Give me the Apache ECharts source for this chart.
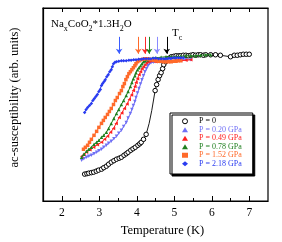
<!DOCTYPE html>
<html>
<head>
<meta charset="utf-8">
<script src="https://cdn.jsdelivr.net/npm/echarts@6/dist/echarts.min.js"></script>
<style>html,body{margin:0;padding:0;background:#fff}#c{width:282px;height:242px}</style>
</head>
<body>
<div id="c"></div>
<script>
const seriesNames = ['P = 0', 'P = 0.20 GPa', 'P = 0.49 GPa', 'P = 0.78 GPa', 'P = 1.52 GPa', 'P = 2.18 GPa'];
const xTickLabels = [2, 3, 4, 5, 6, 7];
const xMinorTicks = [2.5, 3.5, 4.5, 5.5, 6.5];
const xTopTicks = [2, 2.5, 3, 3.5, 4, 4.5, 5, 5.5, 6, 6.5, 7];
// Tc arrow positions (K), in legend order
const tcValues = [4.80, 4.54, 4.22, 4.33, 4.04, 3.53];

const p0 = [[2.61,27],[2.67,27.5],[2.72,28],[2.79,28.5],[2.85,29],[2.92,30],[2.98,31],[3.06,32],[3.12,33.5],[3.19,35],[3.25,37],[3.32,39],[3.39,40.5],[3.46,42],[3.53,43],[3.59,44],[3.66,46],[3.72,47.5],[3.77,49],[3.84,51],[3.90,52.5],[3.96,54],[4.03,56],[4.08,57.5],[4.12,59],[4.18,62],[4.25,67],[4.33,78],[4.40,91],[4.49,111],[4.53,117],[4.57,122],[4.61,126],[4.65,129],[4.69,133],[4.72,137],[4.77,140],[4.82,142.5],[4.86,143.5],[4.92,145],[4.99,145.5],[5.05,146],[5.12,146],[5.17,146],[5.24,146.5],[5.31,146.5],[5.37,146],[5.44,146.5],[5.50,147],[5.57,146.5],[5.64,147],[5.70,147],[5.78,146.5],[5.84,147],[5.97,147],[6.10,147],[6.23,146.5],[6.50,145],[6.60,146.5],[6.68,146.5],[6.76,147],[6.84,147.5],[6.92,147.5],[7.00,147.5]];
const p020 = [[2.53,41],[2.59,42.5],[2.66,44],[2.72,45],[2.79,46],[2.86,47.5],[2.93,49],[2.99,50.5],[3.06,52],[3.12,54],[3.19,56],[3.25,58],[3.32,60],[3.39,62.5],[3.46,65],[3.52,68],[3.59,71],[3.65,75],[3.72,79],[3.77,83.5],[3.83,88],[3.87,92],[3.91,96],[3.95,100],[3.98,104],[4.02,108.5],[4.06,113],[4.10,117.5],[4.14,122],[4.18,126],[4.22,130],[4.26,133],[4.30,136],[4.34,138],[4.38,139],[4.45,139.5],[4.51,140],[4.58,140.5],[4.65,141],[4.78,141],[4.91,141],[5.04,141.5],[5.17,142],[5.31,142],[5.44,142]];
const p049 = [[2.53,45],[2.59,47],[2.66,49],[2.75,51.5],[2.85,54],[2.95,56.5],[3.06,59],[3.14,62],[3.22,65],[3.30,69],[3.38,73],[3.45,78],[3.53,84],[3.60,88.5],[3.67,93],[3.74,97.5],[3.80,102],[3.86,106.5],[3.91,111],[3.95,115],[3.98,119],[4.02,123],[4.06,127],[4.10,130],[4.14,133],[4.18,135],[4.22,137],[4.26,139],[4.30,140],[4.34,140.5],[4.38,141],[4.45,140.5],[4.51,140],[4.58,140],[4.65,140],[4.78,140],[4.91,140],[5.04,140.5],[5.17,141],[5.31,141.5],[5.44,142]];
const p078 = [[2.53,44],[2.59,47],[2.66,50],[2.72,52],[2.79,54],[2.86,57],[2.93,59],[2.99,61],[3.06,64],[3.12,66],[3.19,69],[3.25,73],[3.32,78],[3.39,83],[3.46,88],[3.52,92],[3.59,97],[3.65,101],[3.72,106],[3.77,110],[3.83,115],[3.87,119],[3.91,123],[3.95,126],[3.98,129],[4.02,132],[4.06,134],[4.10,136],[4.14,138],[4.18,140],[4.22,141],[4.28,142],[4.33,143],[4.42,143.5],[4.51,144],[4.65,144.5],[4.78,145],[4.91,145],[5.04,145],[5.17,145.5],[5.31,146],[5.44,146],[5.57,146],[5.70,146.5],[5.84,147],[5.97,147]];
const p152 = [[2.58,52],[2.63,54],[2.69,56],[2.74,59],[2.79,62],[2.86,66],[2.93,70],[2.99,74],[3.06,78],[3.11,81],[3.16,84],[3.22,87],[3.27,90],[3.32,93],[3.38,97],[3.43,101],[3.48,104],[3.54,108],[3.59,111],[3.63,115],[3.67,118],[3.71,122],[3.75,125],[3.79,128],[3.83,130],[3.87,132],[3.91,134],[3.95,136],[3.98,138],[4.02,140],[4.06,141],[4.11,142],[4.17,142.5],[4.22,143],[4.28,143],[4.33,142.5],[4.38,142],[4.45,141.5],[4.51,141],[4.58,140.5],[4.65,140.5],[4.72,140],[4.78,140],[4.85,140],[4.91,140],[4.98,140.5],[5.04,140.5],[5.11,141],[5.17,141]];
const p218 = [[2.61,89],[2.65,92],[2.69,94],[2.74,96],[2.79,98],[2.83,101],[2.87,103],[2.91,105],[2.95,107],[2.99,110],[3.03,112],[3.06,116],[3.09,118],[3.13,120],[3.16,122],[3.20,125],[3.24,127],[3.28,130],[3.32,132],[3.35,135],[3.38,138],[3.42,139.5],[3.46,140],[3.52,140.5],[3.59,141],[3.65,141],[3.72,141],[3.79,141.5],[3.85,141.5],[3.92,142],[3.98,142],[4.05,142.5],[4.12,142.5],[4.18,143],[4.25,143],[4.32,143],[4.38,143],[4.45,143.5],[4.51,143.5],[4.58,143],[4.65,143],[4.72,143],[4.78,143],[4.85,143.5],[4.91,143.5],[4.98,144],[5.04,144],[5.11,144],[5.17,144],[5.24,144]];

const dataSets = [p0, p020, p049, p078, p152, p218];
const colors = ['#000000', '#6f6ff5', '#ff2020', '#1f7f1f', '#ff6a2a', '#2a3cf0'];
const arrowColors = ['#000000', '#8a8aff', '#ff2a2a', '#1f7f1f', '#ff6a2a', '#3a5cff'];
const symbols = ['circle', 'triangle', 'triangle', 'triangle', 'rect', 'diamond'];
const rotations = [0, 180, 90, 0, 0, 0];
const serif = '"Liberation Serif", "DejaVu Serif", serif';

const chart = echarts.init(document.getElementById('c'));
const series = dataSets.map((d, i) => ({
  name: seriesNames[i],
  type: 'line',
  data: d.map(p => (i === 0 && (p[0] === 4.33 || p[0] === 4.40)) ? {value: p, symbol: 'none'} : p),
  symbol: symbols[i],
  symbolRotate: rotations[i],
  symbolSize: i === 0 ? 4.5 : 3.5,
  showSymbol: true,
  itemStyle: i === 0 ? {color: '#fff', borderColor: '#000', borderWidth: 1} : {color: colors[i]},
  lineStyle: {color: colors[i], width: i === 0 ? 0.9 : 1},
  animation: false,
  z: 2 + i,
  markLine: {
    silent: true,
    symbol: ['none', 'arrow'],
    symbolSize: 5,
    label: {show: false},
    lineStyle: {color: arrowColors[i], width: 1, type: 'solid'},
    data: [[{coord: [tcValues[i], 165]}, {coord: [tcValues[i], 148]}]]
  }
}));

chart.setOption({
  animation: false,
  backgroundColor: '#fff',
  grid: {left: 41, right: 14, top: 8, bottom: 40, show: true, borderColor: '#000', borderWidth: 1.2, backgroundColor: 'transparent'},
  title: {
    left: 51, top: 19, padding: 0,
    text: '{n|Na}{s|x}{n|CoO}{s|2}{n|*1.3H}{s|2}{n|O}',
    textStyle: {
      fontWeight: 'normal',
      rich: {
        n: {fontFamily: serif, fontSize: 11, fontWeight: 'normal', color: '#000', lineHeight: 12, verticalAlign: 'top'},
        s: {fontFamily: serif, fontSize: 8, fontWeight: 'normal', color: '#000', lineHeight: 8, padding: [6, 0, 0, 0], verticalAlign: 'top'}
      }
    }
  },
  graphic: [{
    type: 'text', left: 172, top: 28,
    style: {
      text: '{n|T}{s|c}',
      rich: {
        n: {fontFamily: serif, fontSize: 11, fill: '#000', lineHeight: 12, verticalAlign: 'top'},
        s: {fontFamily: serif, fontSize: 8, fill: '#000', lineHeight: 8, padding: [6, 0, 0, 0], verticalAlign: 'top'}
      }
    }
  }],
  legend: {
    orient: 'vertical', left: 170, top: 113,
    padding: [4, 11, 6, 12],
    itemGap: 0, itemWidth: 6, itemHeight: 5,
    backgroundColor: '#fff', borderColor: '#000', borderWidth: 1,
    shadowColor: '#000', shadowOffsetX: 2, shadowOffsetY: 2, shadowBlur: 0,
    textStyle: {fontFamily: serif, fontSize: 8, lineHeight: 8.5, padding: [0, 0, 0, 6]},
    data: seriesNames.map((n, i) => ({
      name: n,
      icon: symbols[i],
      itemStyle: i === 0 ? {color: '#fff', borderColor: '#000', borderWidth: 1} : {color: colors[i]},
      textStyle: {color: colors[i]}
    }))
  },
  xAxis: [{
    type: 'value', min: 1.5, max: 7.5, position: 'bottom',
    name: 'Temperature (K)', nameLocation: 'middle', nameGap: 23,
    nameTextStyle: {fontFamily: serif, fontSize: 12.5, color: '#000', padding: [0, 0, 0, 14]},
    axisLine: {show: true, lineStyle: {color: '#000', width: 1.2}},
    axisTick: {show: true, inside: true, length: 5, customValues: xTickLabels, lineStyle: {color: '#000', width: 1}},
    axisLabel: {show: true, customValues: xTickLabels, fontFamily: serif, fontSize: 11.5, color: '#000', margin: 6},
    splitLine: {show: false}
  }, {
    type: 'value', min: 1.5, max: 7.5, position: 'bottom', gridIndex: 0,
    axisLine: {show: false},
    axisTick: {show: true, inside: true, length: 3, customValues: xMinorTicks, lineStyle: {color: '#000', width: 1}},
    axisLabel: {show: false, customValues: xMinorTicks},
    splitLine: {show: false}
  }, {
    type: 'value', min: 1.5, max: 7.5, position: 'top', gridIndex: 0,
    axisLine: {show: true, lineStyle: {color: '#000', width: 1.2}},
    axisTick: {show: true, inside: true, length: 4, customValues: xTopTicks, lineStyle: {color: '#000', width: 1}},
    axisLabel: {show: false, customValues: xTopTicks},
    splitLine: {show: false}
  }],
  yAxis: {
    type: 'value', min: 0, max: 194,
    name: 'ac-susceptibility (arb. units)', nameLocation: 'middle', nameGap: 22,
    nameTextStyle: {fontFamily: serif, fontSize: 12.5, color: '#000', padding: [0, 0, 0, 14]},
    axisLine: {show: true, lineStyle: {color: '#000', width: 1.2}},
    axisTick: {show: false}, axisLabel: {show: false}, splitLine: {show: false}
  },
  series: series
});
</script>
</body>
</html>
